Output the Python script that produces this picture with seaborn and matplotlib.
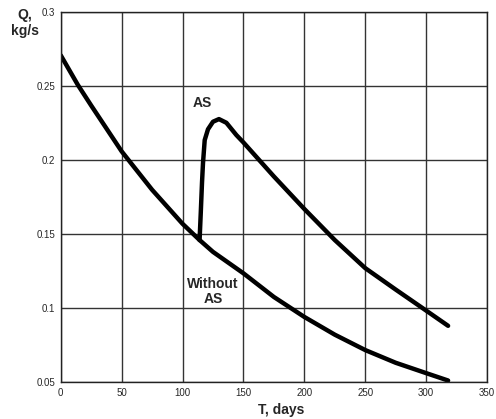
import numpy as np
import pandas as pd
import matplotlib
matplotlib.use("Agg")
import matplotlib.pyplot as plt
import seaborn as sns

# Flow rate Q (kg/s) over time T (days)
without_t = [0, 14, 25, 50, 75, 100, 114, 125, 150, 175, 200, 225, 250, 275, 300, 318]
without_q = [0.271, 0.251, 0.237, 0.206, 0.18, 0.157, 0.146, 0.138, 0.1235, 0.1075,
             0.094, 0.082, 0.0716, 0.063, 0.056, 0.051]

as_t = [114, 115, 116, 116.8, 118.2, 120.9, 125, 129.9, 136, 144.2, 150, 175, 200,
        225, 250, 275, 297, 318]
as_q = [0.146, 0.165, 0.185, 0.198, 0.2136, 0.2209, 0.226, 0.2278, 0.2253, 0.217,
        0.212, 0.189, 0.167, 0.146, 0.127, 0.1125, 0.1, 0.088]

x_ticks = [0, 50, 100, 150, 200, 250, 300, 350]
y_ticks = [0.05, 0.1, 0.15, 0.2, 0.25, 0.3]

df_without = pd.DataFrame({"T": without_t, "Q": without_q})
df_as = pd.DataFrame({"T": as_t, "Q": as_q})

sns.set_style("white")
plt.rcParams["font.family"] = ["Liberation Sans", "DejaVu Sans"]

fig = plt.figure(figsize=(4.96, 4.19), dpi=100)
ax = fig.add_axes([0.1224, 0.0883, 0.8596, 0.8823])

sns.lineplot(data=df_without, x="T", y="Q", ax=ax, color="black", linewidth=3.2,
             sort=False, estimator=None)
sns.lineplot(data=df_as, x="T", y="Q", ax=ax, color="black", linewidth=3.2,
             sort=False, estimator=None)

ax.set_xlim(0, 350)
ax.set_ylim(0.05, 0.3)
ax.set_xticks(x_ticks)
ax.set_yticks(y_ticks)
ax.set_xticklabels([str(t) for t in x_ticks], fontsize=7)
ax.set_yticklabels(["%g" % v for v in y_ticks], fontsize=7)
ax.tick_params(length=0, pad=4)
ax.grid(True, color="#333333", linewidth=1)
ax.set_axisbelow(True)
for s in ax.spines.values():
    s.set_color("#222222")
    s.set_linewidth(1)
ax.set_xlabel("")
ax.set_ylabel("")

# labels
ax.text(116.6, 0.2387, "AS", ha="center", va="center", fontsize=10, fontweight="bold")
ax.text(125, 0.1115, "Without\nAS", ha="center", va="center", fontsize=10,
        fontweight="bold", linespacing=1.1)
fig.text(281 / 496, 1 - 410 / 419, "T, days", ha="center", va="center",
         fontsize=10, fontweight="bold")
fig.text(25 / 496, 1 - 23 / 419, "Q,\nkg/s", ha="center", va="center",
         fontsize=10, fontweight="bold", linespacing=1.1)

fig.savefig("out.png", dpi=100)
